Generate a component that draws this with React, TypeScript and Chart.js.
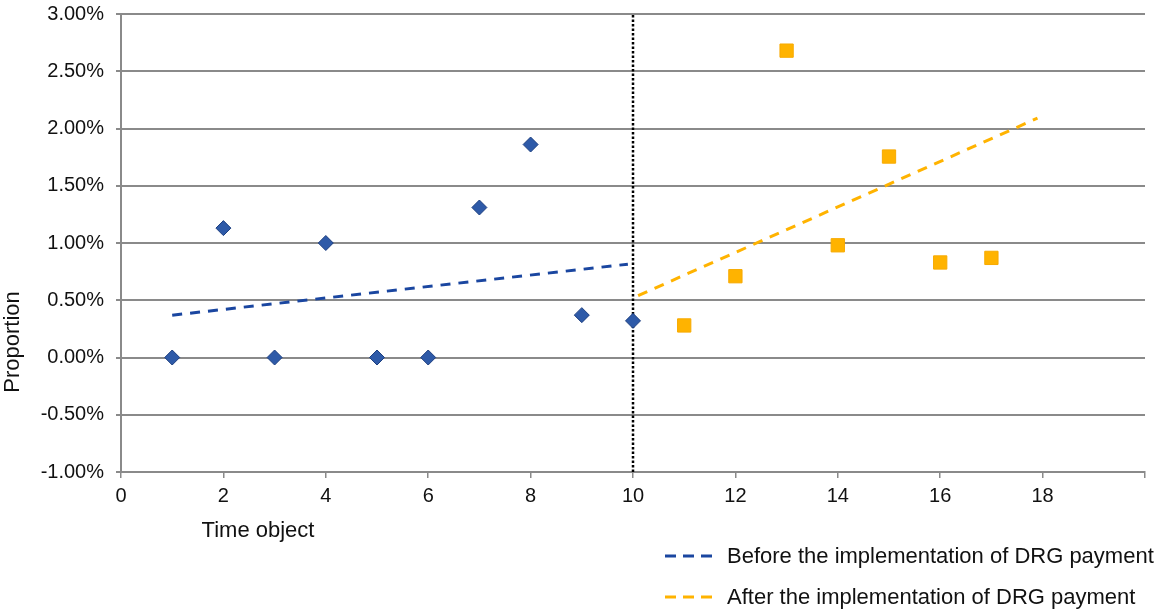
import React, { useEffect, useRef } from "react";
import { Chart, registerables } from "chart.js";

Chart.register(...registerables);

// ---- data (values in percent) ----
const beforeX = [1, 2, 3, 4, 5, 6, 7, 8, 9, 10];
const beforeY = [0, 1.13, 0, 1.0, 0, 0, 1.31, 1.86, 0.37, 0.32];
const afterX = [11, 12, 13, 14, 15, 16, 17];
const afterY = [0.28, 0.71, 2.68, 0.98, 1.755, 0.83, 0.87];
const trendBeforeX = [1, 9.9];
const trendBeforeY = [0.37, 0.815];
const trendAfterX = [10.1, 17.9];
const trendAfterY = [0.54, 2.09];
const cutoffX = [10, 10];
const cutoffY = [-1, 3];
const seriesLabels = [
  "Before the implementation of DRG payment",
  "After the implementation of DRG payment",
];
const xTitle = "Time object";
const yTitle = "Proportion";
const xMin = 0;
const xMax = 20;
const xStep = 2;
const yMin = -1;
const yMax = 3;
const yStep = 0.5;

const FONT = '"Liberation Sans", Arial, sans-serif';
const GRID = "#8a8a8a";
const BLUE_LINE = "#1a46a0";
const ORANGE = "#ffb300";

const zip = (xs: number[], ys: number[]) => xs.map((x, i) => ({ x, y: ys[i] }));

const overlayPlugin = {
  id: "overlay",
  afterDraw(chart: any) {
    const ctx = chart.ctx as CanvasRenderingContext2D;
    const area = chart.chartArea;
    ctx.save();
    ctx.fillStyle = "#111";
    // axis titles
    ctx.font = `22px ${FONT}`;
    ctx.textAlign = "center";
    ctx.textBaseline = "middle";
    ctx.fillText(xTitle, area.left + 137, area.bottom + 59);
    ctx.save();
    ctx.translate(13, area.top + 328);
    ctx.rotate(-Math.PI / 2);
    ctx.fillText(yTitle, 0, 0);
    ctx.restore();
    // legend
    const items = chart.data.datasets.filter((d: any) => d.inLegend);
    const lx = area.right - 480;
    let ly = area.bottom + 84;
    ctx.textAlign = "left";
    items.forEach((d: any) => {
      ctx.save();
      ctx.strokeStyle = d.borderColor;
      ctx.lineWidth = 3;
      ctx.setLineDash([11, 7]);
      ctx.beginPath();
      ctx.moveTo(lx, ly);
      ctx.lineTo(lx + 50, ly);
      ctx.stroke();
      ctx.restore();
      ctx.fillStyle = "#111";
      ctx.fillText(d.label, lx + 62, ly + 1);
      ly += 41;
    });
    ctx.restore();
  },
};

export default function App() {
  const canvasRef = useRef<HTMLCanvasElement | null>(null);

  useEffect(() => {
    document.body.style.margin = "0";
    const canvas = canvasRef.current;
    if (!canvas) return;
    const chart = new Chart(canvas, {
      type: "scatter",
      data: {
        datasets: [
          {
            label: "before-points",
            data: zip(beforeX, beforeY),
            pointStyle: "rectRot",
            pointRadius: 7.5,
            pointHoverRadius: 7.5,
            backgroundColor: "#2e5aa8",
            borderColor: "#1d3f80",
            borderWidth: 1,
            showLine: false,
          } as any,
          {
            label: "after-points",
            data: zip(afterX, afterY),
            pointStyle: "rect",
            pointRadius: 9.4,
            pointHoverRadius: 9.4,
            backgroundColor: ORANGE,
            borderColor: "#f7aa00",
            borderWidth: 1,
            showLine: false,
          } as any,
          {
            label: seriesLabels[0],
            inLegend: true,
            data: zip(trendBeforeX, trendBeforeY),
            showLine: true,
            borderColor: BLUE_LINE,
            borderWidth: 3,
            borderDash: [10, 8],
            pointRadius: 0,
            fill: false,
          } as any,
          {
            label: seriesLabels[1],
            inLegend: true,
            data: zip(trendAfterX, trendAfterY),
            showLine: true,
            borderColor: ORANGE,
            borderWidth: 3,
            borderDash: [10, 8],
            pointRadius: 0,
            fill: false,
          } as any,
          {
            label: "cutoff",
            data: zip(cutoffX, cutoffY),
            showLine: true,
            borderColor: "#000",
            borderWidth: 2.5,
            borderDash: [2.5, 2],
            pointRadius: 0,
            fill: false,
          } as any,
        ],
      },
      options: {
        animation: false,
        responsive: true,
        maintainAspectRatio: false,
        devicePixelRatio: 1,
        layout: { padding: { left: 0, right: 25, top: 14, bottom: 0 } },
        plugins: {
          legend: { display: false },
          tooltip: { enabled: false },
        },
        scales: {
          x: {
            type: "linear",
            min: xMin,
            max: xMax,
            afterFit: (s: any) => {
              s.height = 144;
              s.paddingLeft = 0;
              s.paddingRight = 0;
            },
            ticks: {
              stepSize: xStep,
              color: "#111",
              font: { family: FONT, size: 20 },
              padding: 6,
              maxRotation: 0,
              callback: (v: any) => (Number(v) === xMax ? "" : String(v)),
            },
            grid: {
              drawOnChartArea: false,
              drawTicks: true,
              tickLength: 6,
              color: GRID,
              lineWidth: 1.5,
            },
            border: { display: true, color: GRID, width: 2 },
          },
          y: {
            type: "linear",
            min: yMin,
            max: yMax,
            afterFit: (s: any) => {
              s.width = 121;
              s.paddingTop = 0;
              s.paddingBottom = 0;
            },
            ticks: {
              stepSize: yStep,
              color: "#111",
              font: { family: FONT, size: 20 },
              padding: 12,
              callback: (v: any) => Number(v).toFixed(2) + "%",
            },
            grid: {
              color: GRID,
              lineWidth: 2,
              drawTicks: true,
              tickLength: 5,
            },
            border: { display: true, color: GRID, width: 2 },
          },
        },
      },
      plugins: [overlayPlugin],
    });
    return () => chart.destroy();
  }, []);

  return (
    <div style={{ position: "relative", width: 1170, height: 616, background: "#fff" }}>
      <canvas ref={canvasRef} />
    </div>
  );
}
